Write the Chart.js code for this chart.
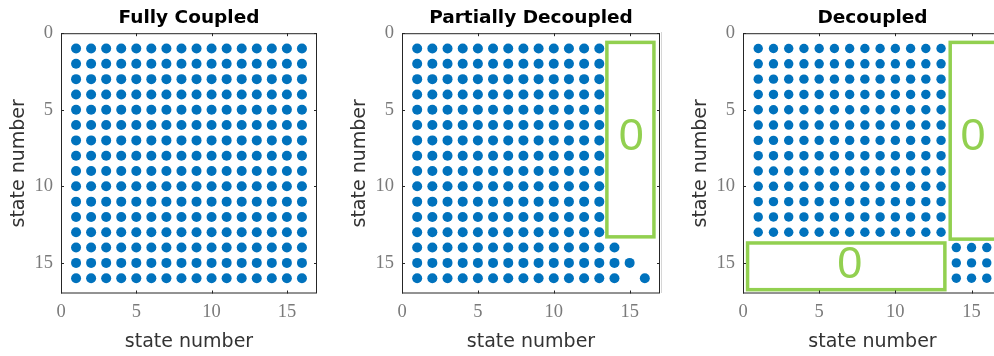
<!DOCTYPE html>
<html>
<head>
<meta charset="utf-8">
<script src="https://cdn.jsdelivr.net/npm/chart.js@4.4.0/dist/chart.umd.min.js"></script>
<style>
  html, body { margin: 0; padding: 0; background: #fff; }
  body { width: 994px; height: 356px; overflow: hidden; position: relative; }
  .panel { position: absolute; top: 0; }
  .edge { position: absolute; left: 661px; top: 32px; width: 1px; height: 261px; background: #d6d6d6; }
</style>
</head>
<body>
<div class="panel" style="left:0px"><canvas id="p1" width="330" height="356"></canvas></div>
<div class="panel" style="left:341px"><canvas id="p2" width="329" height="356"></canvas></div>
<div class="edge"></div>
<div class="panel" style="left:655px"><canvas id="p3" width="357" height="356"></canvas></div>
<script>
// --- data ---
const titles = ["Fully Coupled", "Partially Decoupled", "Decoupled"];
const axisLabel = "state number";
const tickValues = [0, 5, 10, 15];
const states = [1, 2, 3, 4, 5, 6, 7, 8, 9, 10, 11, 12, 13, 14, 15, 16];

// partially decoupled: columns 1-13 filled in every row, plus a small tail
const partialCols = [1, 2, 3, 4, 5, 6, 7, 8, 9, 10, 11, 12, 13];
const partialTail = [[14, 14], [15, 14], [15, 15], [16, 14], [16, 16]]; // [row, col]

// decoupled: two diagonal blocks
const blockA = [1, 2, 3, 4, 5, 6, 7, 8, 9, 10, 11, 12, 13];
const blockB = [14, 15, 16];

// zero regions (data units) marked in green
const partialZeros = [{ x1: 13.5, y1: 0.6, x2: 16.6, y2: 13.3, lx: 15.1, ly: 6.8 }];
const decoupledZeros = [
  { x1: 13.6, y1: 0.6, x2: 16.75, y2: 13.45, lx: 15.1, ly: 6.85 },
  { x1: 0.3, y1: 13.7, x2: 13.25, y2: 16.75, lx: 7.0, ly: 15.15 },
];

// --- build point sets ---
function grid(rows, cols) {
  const pts = [];
  rows.forEach(r => cols.forEach(c => pts.push({ x: c, y: r })));
  return pts;
}
const fullPts = grid(states, states);
const partialPts = grid(states, partialCols).concat(partialTail.map(([r, c]) => ({ x: c, y: r })));
const decoupledPts = grid(blockA, blockA).concat(grid(blockB, blockB));

// frame, inward ticks and green zero boxes
const framePlugin = {
  id: "frame",
  afterDatasetsDraw(chart, args, opts) {
    const { ctx, chartArea: a, scales: { x, y } } = chart;
    ctx.save();
    (opts.boxes || []).forEach(b => {
      const x1 = x.getPixelForValue(b.x1), x2 = x.getPixelForValue(b.x2);
      const y1 = y.getPixelForValue(b.y1), y2 = y.getPixelForValue(b.y2);
      ctx.strokeStyle = "#92D050";
      ctx.lineWidth = 3.5;
      ctx.strokeRect(x1, y1, x2 - x1, y2 - y1);
      ctx.fillStyle = "#92D050";
      ctx.font = "45px 'Liberation Sans', Arial, sans-serif";
      ctx.textAlign = "center";
      ctx.textBaseline = "middle";
      ctx.fillText("0", x.getPixelForValue(b.lx), y.getPixelForValue(b.ly));
    });
    ctx.strokeStyle = "#262626";
    ctx.lineWidth = 1;
    ctx.strokeRect(a.left + 0.5, a.top + 0.5, a.width - 1, a.height - 1);
    ctx.beginPath();
    tickValues.forEach(v => {
      const px = Math.round(x.getPixelForValue(v)) + 0.5;
      ctx.moveTo(px, a.bottom); ctx.lineTo(px, a.bottom - 3);
      ctx.moveTo(px, a.top); ctx.lineTo(px, a.top + 3);
      const py = Math.round(y.getPixelForValue(v)) + 0.5;
      ctx.moveTo(a.left, py); ctx.lineTo(a.left + 3, py);
      ctx.moveTo(a.right, py); ctx.lineTo(a.right - 3, py);
    });
    ctx.stroke();
    ctx.restore();
  }
};

const panels = [
  { id: "p1", title: titles[0], points: fullPts, boxes: [], yAxisWidth: 61, padRight: 13, radius: 5 },
  { id: "p2", title: titles[1], points: partialPts, boxes: partialZeros, yAxisWidth: 61, padRight: 10, radius: 5 },
  { id: "p3", title: titles[2], points: decoupledPts, boxes: decoupledZeros, yAxisWidth: 88, padRight: 10, radius: 4.7 },
];

const tickFont = { family: "'Liberation Serif', 'Times New Roman', serif", size: 18.5 };
const labelFont = { family: "'DejaVu Sans', sans-serif", size: 19 };

panels.forEach(p => {
  const setTicks = scale => { scale.ticks = tickValues.map(v => ({ value: v })); };
  new Chart(document.getElementById(p.id), {
    type: "scatter",
    data: {
      datasets: [{
        data: p.points,
        pointRadius: p.radius,
        pointBackgroundColor: "#0072BD",
        pointBorderWidth: 0,
        borderWidth: 0,
      }],
    },
    options: {
      responsive: false,
      animation: false,
      events: [],
      layout: { padding: { left: 0, right: p.padRight, top: 0, bottom: 0 } },
      plugins: {
        legend: { display: false },
        tooltip: { enabled: false },
        title: {
          display: true,
          text: p.title,
          fullSize: false,
          color: "#000",
          font: { family: "'DejaVu Sans', sans-serif", size: 18.5, weight: "bold" },
          padding: { top: 7, bottom: 4 },
        },
        frame: { boxes: p.boxes },
      },
      scales: {
        x: {
          type: "linear",
          min: 0,
          max: 17,
          afterBuildTicks: setTicks,
          afterFit: s => { s.height = 62.5; },
          grid: { display: false, drawTicks: false },
          border: { display: false },
          ticks: { color: "#7a7a7a", font: tickFont, padding: 8, maxRotation: 0 },
          title: { display: true, text: axisLabel, color: "#333", font: labelFont, padding: { top: 0, bottom: 3 } },
        },
        y: {
          type: "linear",
          reverse: true,
          min: 0,
          max: 17,
          afterBuildTicks: setTicks,
          afterFit: s => { s.width = p.yAxisWidth; },
          grid: { display: false, drawTicks: false },
          border: { display: false },
          ticks: { color: "#7a7a7a", font: tickFont, padding: 8 },
          title: { display: true, text: axisLabel, color: "#333", font: labelFont, padding: { top: p.yAxisWidth - 53.4, bottom: 0 } },
        },
      },
    },
    plugins: [framePlugin],
  });
});
</script>
</body>
</html>
